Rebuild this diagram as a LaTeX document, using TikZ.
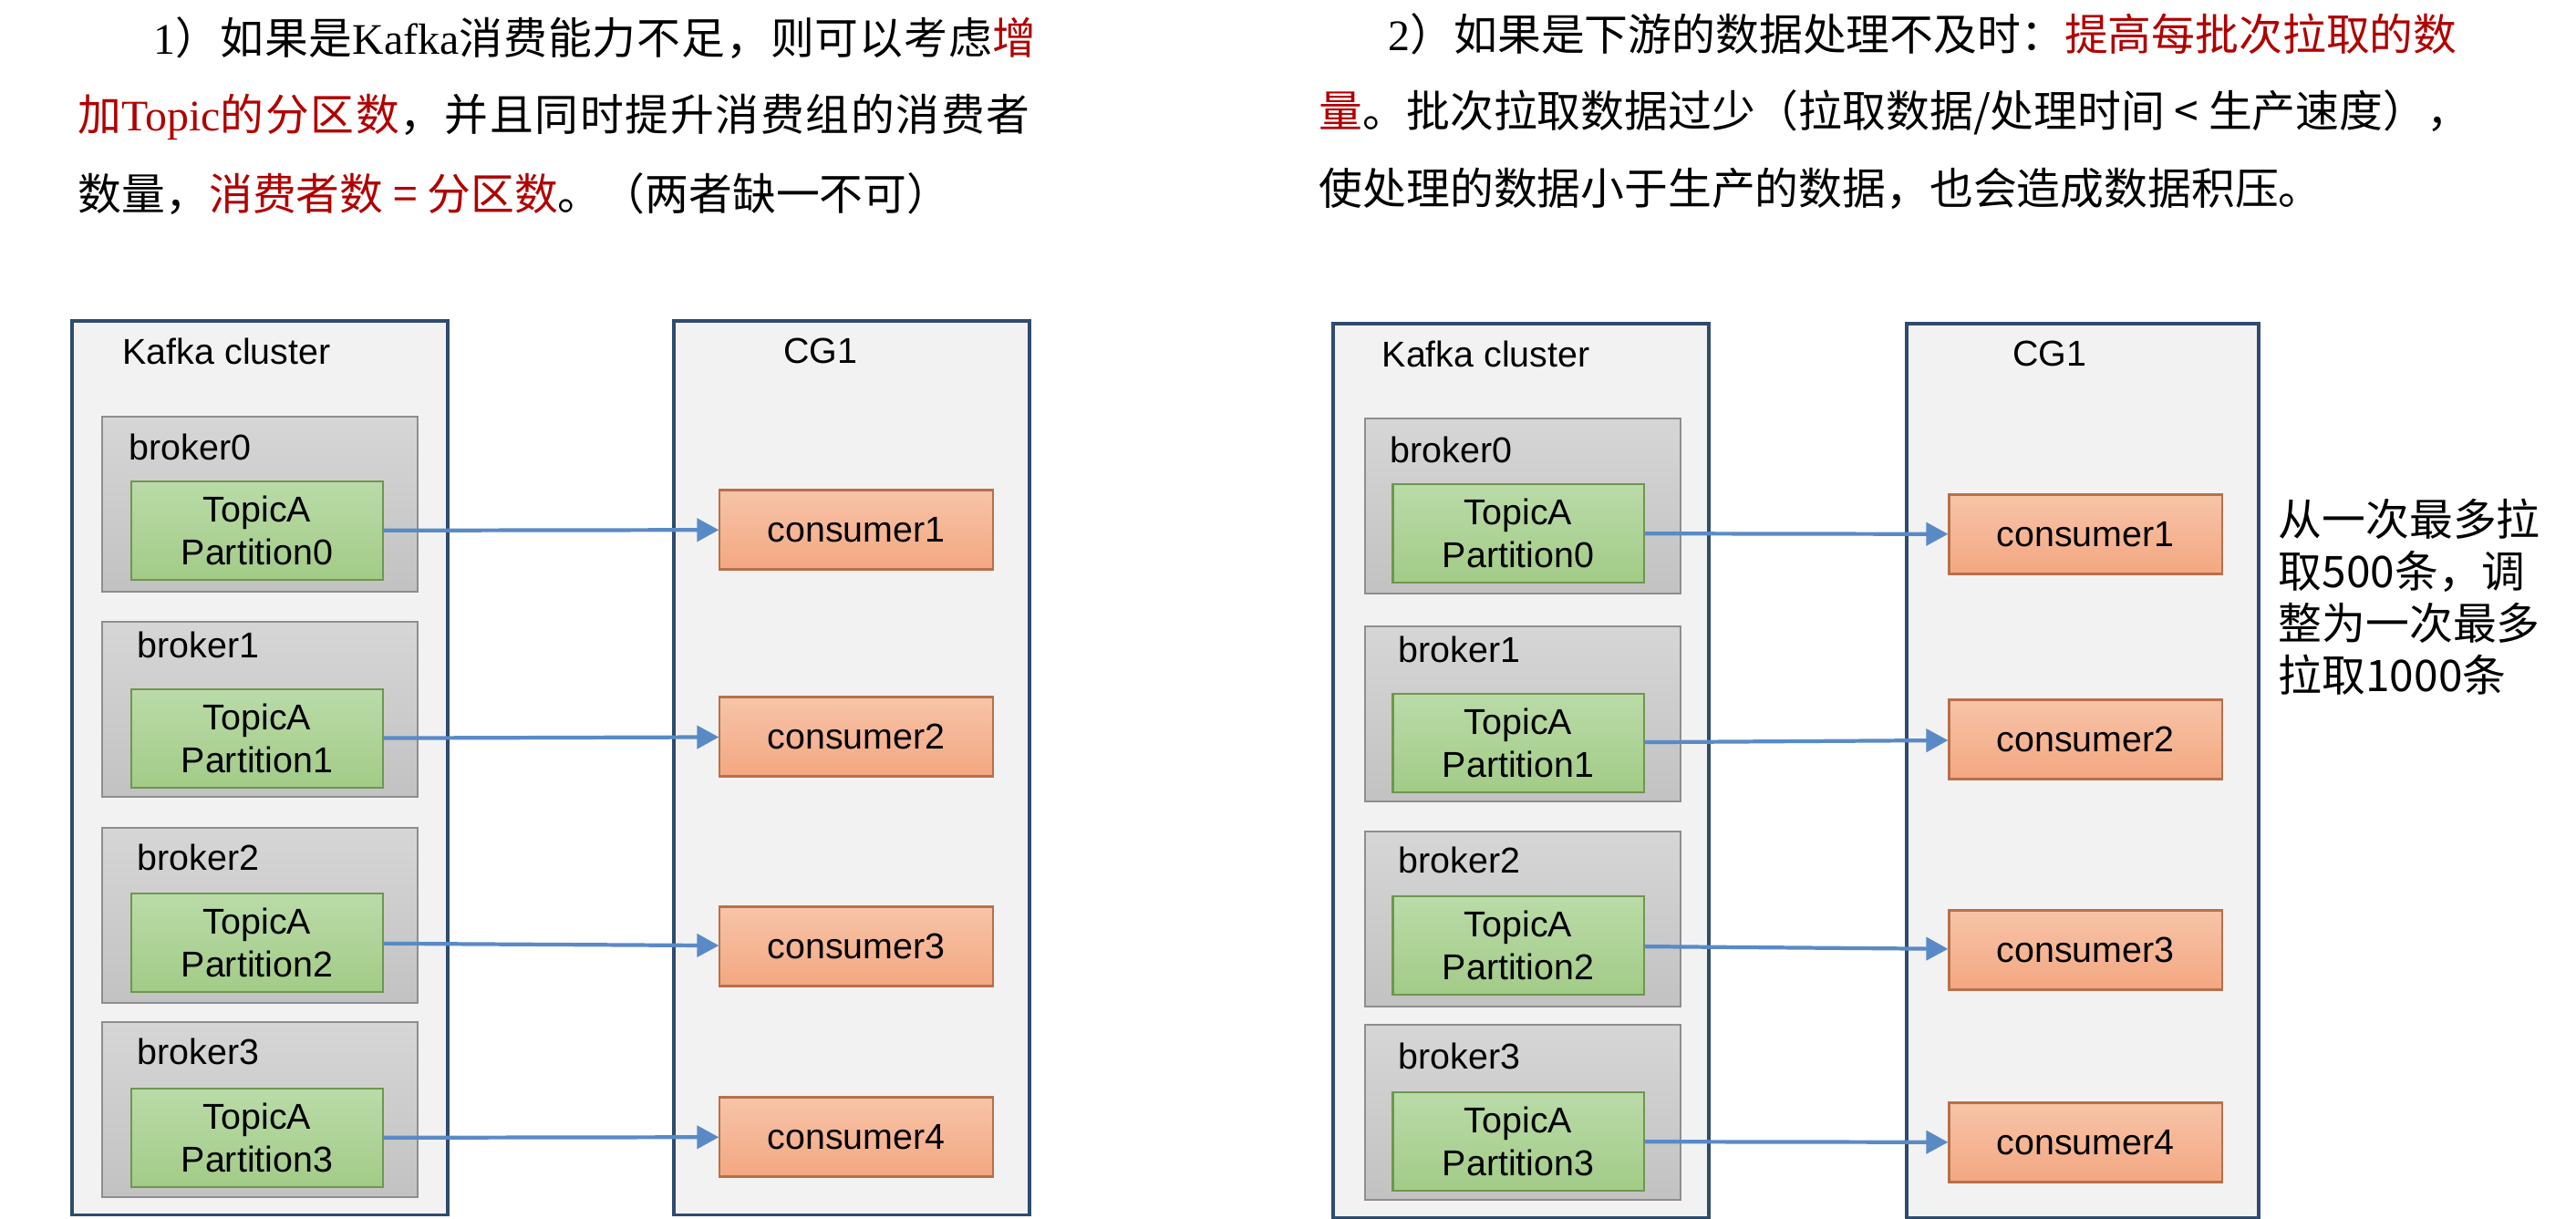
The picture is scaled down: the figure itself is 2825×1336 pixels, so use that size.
\documentclass[tikz,border=0pt]{standalone}
\usepackage{fontspec}
\setmainfont{Liberation Sans}
\newfontfamily\cjk{Noto Sans CJK SC}
\newfontfamily\cjkwide[LetterSpace=3.5]{Noto Sans CJK SC}
\newfontfamily\cjkmid[LetterSpace=2]{Noto Sans CJK SC}
\newfontfamily\tnr{Liberation Serif}
\usetikzlibrary{arrows.meta,positioning}

\definecolor{panelfill}{HTML}{F2F2F2}
\definecolor{panelline}{HTML}{2F4B6E}
\definecolor{brokertop}{HTML}{D6D6D6}
\definecolor{brokerbot}{HTML}{C2C2C2}
\definecolor{brokerline}{HTML}{8E8E8E}
\definecolor{parttop}{HTML}{BADBA8}
\definecolor{partbot}{HTML}{A2CB87}
\definecolor{partline}{HTML}{6F9650}
\definecolor{constop}{HTML}{F7C4A8}
\definecolor{consbot}{HTML}{F3A781}
\definecolor{consline}{HTML}{B8704A}
\definecolor{arrowblue}{HTML}{5A8AC6}
\definecolor{darkred}{HTML}{B00000}

\begin{document}
\begin{tikzpicture}[x=0.01cm, y=-0.01cm,
		container/.style={rectangle, draw=panelline, line width=1.1pt, fill=panelfill,
			anchor=north west, inner sep=0pt, minimum height=9.8cm},
		broker/.style={rectangle, draw=brokerline, line width=0.6pt, top color=brokertop,
			bottom color=brokerbot, anchor=north west, inner sep=0pt,
			minimum width=3.46cm, minimum height=1.92cm},
		part/.style={rectangle, draw=partline, line width=0.6pt, top color=parttop,
			bottom color=partbot, align=center, inner sep=0pt,
			minimum width=2.75cm, minimum height=1.08cm},
		consumer/.style={rectangle, draw=consline, line width=0.6pt, top color=constop,
			bottom color=consbot, inner sep=0pt,
			minimum width=2.99cm, minimum height=0.87cm},
		arrow/.style={-{Triangle[length=0.24cm,width=0.25cm]}, line width=1.2pt, draw=arrowblue},
		lbl/.style={font=\fontsize{11.2}{13.3}\selectfont, inner sep=0pt},
		note/.style={font=\cjk\fontsize{13.6}{16.2}\selectfont, inner sep=0pt, anchor=west}
	]
	\useasboundingbox (0,0) rectangle (2825,1336);
	
	% explanation texts
	\node[note] (t1a) at (168,42) {\cjkmid{\tnr 1}）如果是{\tnr Kafka}消费能力不足，则可以考虑\textcolor{darkred}{增}};
	\node[note] (t1b) at (85,128) {\cjkwide\textcolor{darkred}{加{\tnr Topic}的分区数}，并且同时提升消费组的消费者};
	\node[note] (t1c) at (85,213) {数量，\textcolor{darkred}{消费者数 = 分区数}。（两者缺一不可）};
	\node[note] (t2a) at (1522,37) {{\tnr 2}）如果是下游的数据处理不及时：\textcolor{darkred}{提高每批次拉取的数}};
	\node[note] (t2b) at (1446,123) {\textcolor{darkred}{量}。批次拉取数据过少（拉取数据/处理时间 < 生产速度），};
	\node[note] (t2c) at (1446,207) {使处理的数据小于生产的数据，也会造成数据积压。};
	
	% left diagram
	\node[container, minimum width=4.12cm] (lk) at (77,350) {};
	\node[container, minimum width=3.9cm] (lg) at (737,350) {};
	\node[lbl, anchor=west] (lkt) at (134,385) {Kafka cluster};
	\node[lbl] (lgt) at (900,385) {CG1};
	\foreach \i/\n/\bt/\lx/\ly/\py/\cy in {0/1/456/141/490/582/581, 1/2/681/150/707/810/808,
		2/3/907/150/940/1034/1038, 3/4/1120/150/1153/1248/1247}{
		\node[broker] (lb\i) at (111,\bt) {};
		\node[lbl, anchor=west] (lbt\i) at (\lx,\ly) {broker\i};
		\node[part, font=\fontsize{11.2}{13.3}\selectfont] (lp\i) at (282,\py) {TopicA\\Partition\i};
		\node[consumer, font=\fontsize{11.2}{13.3}\selectfont] (lc\i) at (939,\cy) {consumer\n};
		\draw[arrow] (lp\i) -- (lc\i);
	}
	
	% right diagram
	\node[container, minimum width=4.12cm] (rk) at (1460,353) {};
	\node[container, minimum width=3.86cm] (rg) at (2089,353) {};
	\node[lbl, anchor=west] (rkt) at (1515,388) {Kafka cluster};
	\node[lbl] (rgt) at (2248,388) {CG1};
	\foreach \i/\n/\bt/\lx/\ly/\py/\cy in {0/1/458/1524/493/585/586, 1/2/686/1533/712/815/811,
		2/3/911/1533/943/1037/1042, 3/4/1123/1533/1158/1252/1253}{
		\node[broker] (rb\i) at (1496,\bt) {};
		\node[lbl, anchor=west] (rbt\i) at (\lx,\ly) {broker\i};
		\node[part, font=\fontsize{11.2}{13.3}\selectfont] (rp\i) at (1665,\py) {TopicA\\Partition\i};
		\node[consumer, font=\fontsize{11.2}{13.3}\selectfont] (rc\i) at (2287,\cy) {consumer\n};
		\draw[arrow] (rp\i) -- (rc\i);
	}
	\node[note, align=left] (side) at (2498,655) {从一次最多拉\\取500条，调\\整为一次最多\\拉取1000条};
\end{tikzpicture}
\end{document}
